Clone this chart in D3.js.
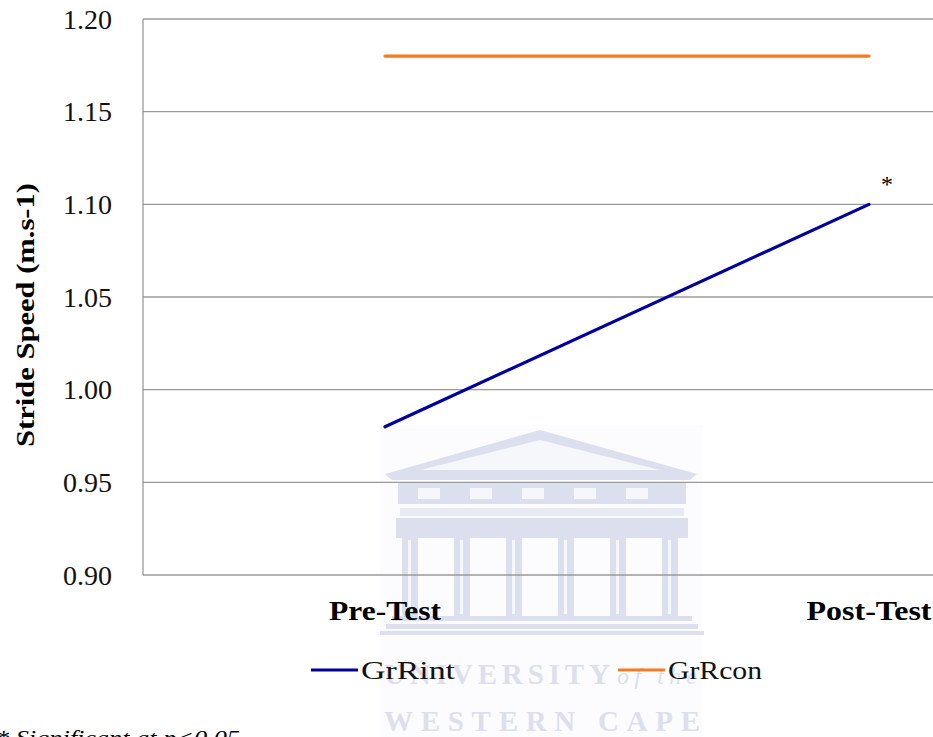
<!DOCTYPE html>
<html>
<head>
<meta charset="utf-8">
<script src="https://cdn.jsdelivr.net/npm/d3@7"></script>
<style>
  html, body { margin: 0; padding: 0; background: #fff; overflow: hidden; }
  svg { display: block; }
  text { font-family: "Times New Roman", Times, "Liberation Serif", "DejaVu Serif", "Noto Serif", serif; }
</style>
</head>
<body>
<div id="chart"></div>
<script>
const categories = ['Pre-Test', 'Post-Test'];
const seriesNames = ['GrRint', 'GrRcon'];
const grRint = [0.98, 1.10];
const grRcon = [1.18, 1.18];
const yTicks = [0.90, 0.95, 1.00, 1.05, 1.10, 1.15, 1.20];
const seriesColors = ['#00009c', '#f57a20'];

const width = 933;
const height = 737;
const plotLeft = 143;

const svg = d3.select('#chart')
  .append('svg')
  .attr('width', width)
  .attr('height', height);

// chart area runs past the right edge of the picture
const x = d3.scaleBand()
  .domain(categories)
  .range([plotLeft, 1111])
  .padding(0);

const y = d3.scaleLinear()
  .domain([0.90, 1.20])
  .range([575, 19]);

const cx = d => x(d) + x.bandwidth() / 2;

// faint university watermark
const wmFill = '#dcdfed';
const wmHole = '#f6f7fb';
const wm = svg.append('g').attr('fill', wmFill).attr('stroke', 'none');
wm.append('rect').attr('x', 380).attr('y', 425).attr('width', 322).attr('height', 312).attr('fill', '#fcfcfe');
wm.append('path').attr('d', 'M385,474 L540,430 L697,474 L690,480 L392,480 Z');
wm.append('path').attr('d', 'M420,470 L540,440 L660,470 Z').attr('fill', wmHole);
wm.append('rect').attr('x', 398).attr('y', 482).attr('width', 288).attr('height', 22);
[432, 484, 536, 588, 640].forEach(px => {
  wm.append('rect').attr('x', px - 14).attr('y', 488).attr('width', 22).attr('height', 11).attr('fill', wmHole);
});
wm.append('rect').attr('x', 400).attr('y', 508).attr('width', 284).attr('height', 8).attr('fill', '#e8eaf3');
wm.append('rect').attr('x', 396).attr('y', 518).attr('width', 292).attr('height', 20);
[410, 462, 514, 566, 618, 670].forEach(px => {
  wm.append('rect').attr('x', px - 8).attr('y', 538).attr('width', 16).attr('height', 78);
  wm.append('rect').attr('x', px - 2).attr('y', 540).attr('width', 3).attr('height', 74).attr('fill', wmHole);
});
wm.append('rect').attr('x', 392).attr('y', 616).attr('width', 300).attr('height', 5);
wm.append('rect').attr('x', 386).attr('y', 624).attr('width', 312).attr('height', 5);
wm.append('rect').attr('x', 380).attr('y', 631).attr('width', 324).attr('height', 4);
wm.append('text')
  .attr('x', 384).attr('y', 684)
  .attr('font-weight', 'bold').attr('font-size', 29)
  .attr('textLength', 226).attr('lengthAdjust', 'spacing')
  .text('UNIVERSITY');
wm.append('text')
  .attr('x', 617).attr('y', 684)
  .attr('font-style', 'italic').attr('font-size', 24)
  .attr('textLength', 80).attr('lengthAdjust', 'spacing')
  .text('of the');
wm.append('text')
  .attr('x', 384).attr('y', 731)
  .attr('font-weight', 'bold').attr('font-size', 29)
  .attr('textLength', 316).attr('lengthAdjust', 'spacing')
  .text('WESTERN CAPE');

// gridlines
svg.append('g')
  .selectAll('line')
  .data(yTicks)
  .join('line')
  .attr('x1', plotLeft)
  .attr('x2', width)
  .attr('y1', d => y(d))
  .attr('y2', d => y(d))
  .attr('stroke', '#9a9a9a')
  .attr('stroke-width', 1.3);

svg.append('line')
  .attr('x1', plotLeft).attr('x2', plotLeft)
  .attr('y1', y(1.20)).attr('y2', y(0.90))
  .attr('stroke', '#9a9a9a')
  .attr('stroke-width', 1.3);

// y tick labels
svg.append('g')
  .selectAll('text')
  .data(yTicks)
  .join('text')
  .attr('x', 112)
  .attr('y', d => y(d))
  .attr('dy', '0.34em')
  .attr('text-anchor', 'end')
  .attr('font-size', 28)
  .attr('fill', '#111')
  .text(d => d.toFixed(2));

// y axis title
svg.append('text')
  .attr('transform', `translate(34,${y(1.05) + 18}) rotate(-90)`)
  .attr('text-anchor', 'middle')
  .attr('font-weight', 'bold')
  .attr('font-size', 26)
  .attr('textLength', 264).attr('lengthAdjust', 'spacingAndGlyphs')
  .text('Stride Speed (m.s-1)');

// category labels
const catLen = [112, 125];
svg.append('g')
  .selectAll('text')
  .data(categories)
  .join('text')
  .attr('x', d => cx(d))
  .attr('y', 620)
  .attr('text-anchor', 'middle')
  .attr('font-weight', 'bold')
  .attr('font-size', 27)
  .attr('textLength', (d, i) => catLen[i]).attr('lengthAdjust', 'spacingAndGlyphs')
  .text(d => d);

// series lines
const line = d3.line()
  .x((d, i) => cx(categories[i]))
  .y(d => y(d));

[grRint, grRcon].forEach((vals, i) => {
  svg.append('path')
    .datum(vals)
    .attr('d', line)
    .attr('fill', 'none')
    .attr('stroke', seriesColors[i])
    .attr('stroke-width', 3.2)
    .attr('stroke-linecap', 'round');
});

// significance marker
svg.append('text')
  .attr('x', cx('Post-Test') + 18)
  .attr('y', y(grRint[1]) - 12)
  .attr('text-anchor', 'middle')
  .attr('font-size', 24)
  .text('*');

// legend
const legendX = [311, 618];
seriesNames.forEach((name, i) => {
  svg.append('line')
    .attr('x1', legendX[i]).attr('x2', legendX[i] + 47)
    .attr('y1', 670).attr('y2', 670)
    .attr('stroke', seriesColors[i])
    .attr('stroke-width', 3.2);
  svg.append('text')
    .attr('x', legendX[i] + 50)
    .attr('y', 679)
    .attr('font-size', 25)
    .attr('fill', '#111')
    .attr('textLength', 94).attr('lengthAdjust', 'spacingAndGlyphs')
    .text(name);
});

// footnote, cut off by the bottom edge
svg.append('text')
  .attr('x', -4)
  .attr('y', 745)
  .attr('font-style', 'italic')
  .attr('font-size', 22)
  .attr('textLength', 244).attr('lengthAdjust', 'spacingAndGlyphs')
  .text('* Significant at p<0.05');
</script>
</body>
</html>
